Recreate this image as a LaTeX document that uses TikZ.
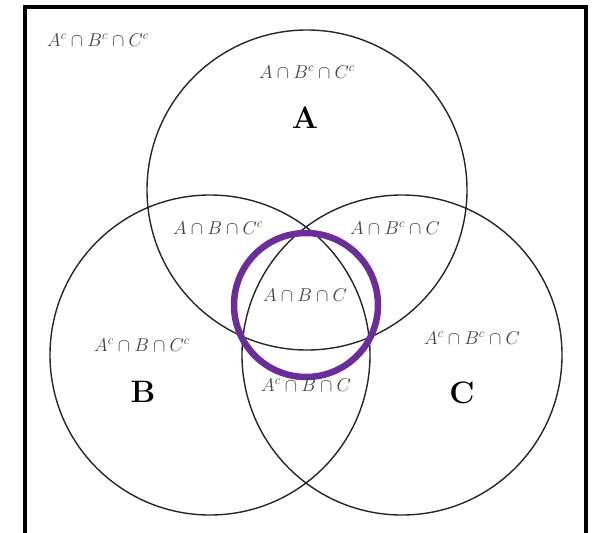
\RequirePackage{fix-cm}
\documentclass[tikz,border=0pt]{standalone}
\usepackage{amsmath}
\begin{document}
\begin{tikzpicture}[x=1pt,y=-1pt,
  setc/.style={draw=black!85,line width=1.4pt},
  lbl/.style={font=\fontsize{18.5}{22}\selectfont,text=black!75,inner sep=0pt},
  big/.style={font=\fontsize{31}{34}\selectfont\bfseries,inner sep=0pt},
  frame/.style={line width=4pt,draw=black}]
\useasboundingbox (0,0) rectangle (598,533);
\begin{scope}
\clip (0,0) rectangle (598,533);
\coordinate (fbl) at (25,545);
\coordinate (ftl) at (25,7);
\coordinate (ftr) at (586,7);
\coordinate (fbr) at (586,545);
\draw[frame] (fbl) -- (ftl) -- (ftr) -- (fbr);
\end{scope}
\node[setc,circle,minimum size=320pt,inner sep=0pt] (cA) at (307,190) {};
\node[setc,circle,minimum size=320pt,inner sep=0pt] (cB) at (210,355) {};
\node[setc,circle,minimum size=320pt,inner sep=0pt] (cC) at (402,355) {};
\node[circle,draw={rgb,255:red,106;green,45;blue,155},line width=6.5pt,minimum size=144pt,inner sep=0pt] (cP) at (306,305) {};
\node[lbl] (none) at (98,40) {$A^{c}\cap B^{c}\cap C^{c}$};
\node[lbl] (onlyA) at (307,72) {$A\cap B^{c}\cap C^{c}$};
\node[big] (nA) at (305,118) {A};
\node[lbl] (ABnC) at (218,228) {$A\cap B\cap C^{c}$};
\node[lbl] (AnBC) at (395,228) {$A\cap B^{c}\cap C$};
\node[lbl] (ABC) at (305,295) {$A\cap B\cap C$};
\node[lbl] (onlyB) at (142,345) {$A^{c}\cap B\cap C^{c}$};
\node[big] (nB) at (143,392) {B};
\node[lbl] (onlyC) at (472,338) {$A^{c}\cap B^{c}\cap C$};
\node[big] (nC) at (462,393) {C};
\node[lbl] (nABC) at (306,385) {$A^{c}\cap B\cap C$};
\end{tikzpicture}
\end{document}
